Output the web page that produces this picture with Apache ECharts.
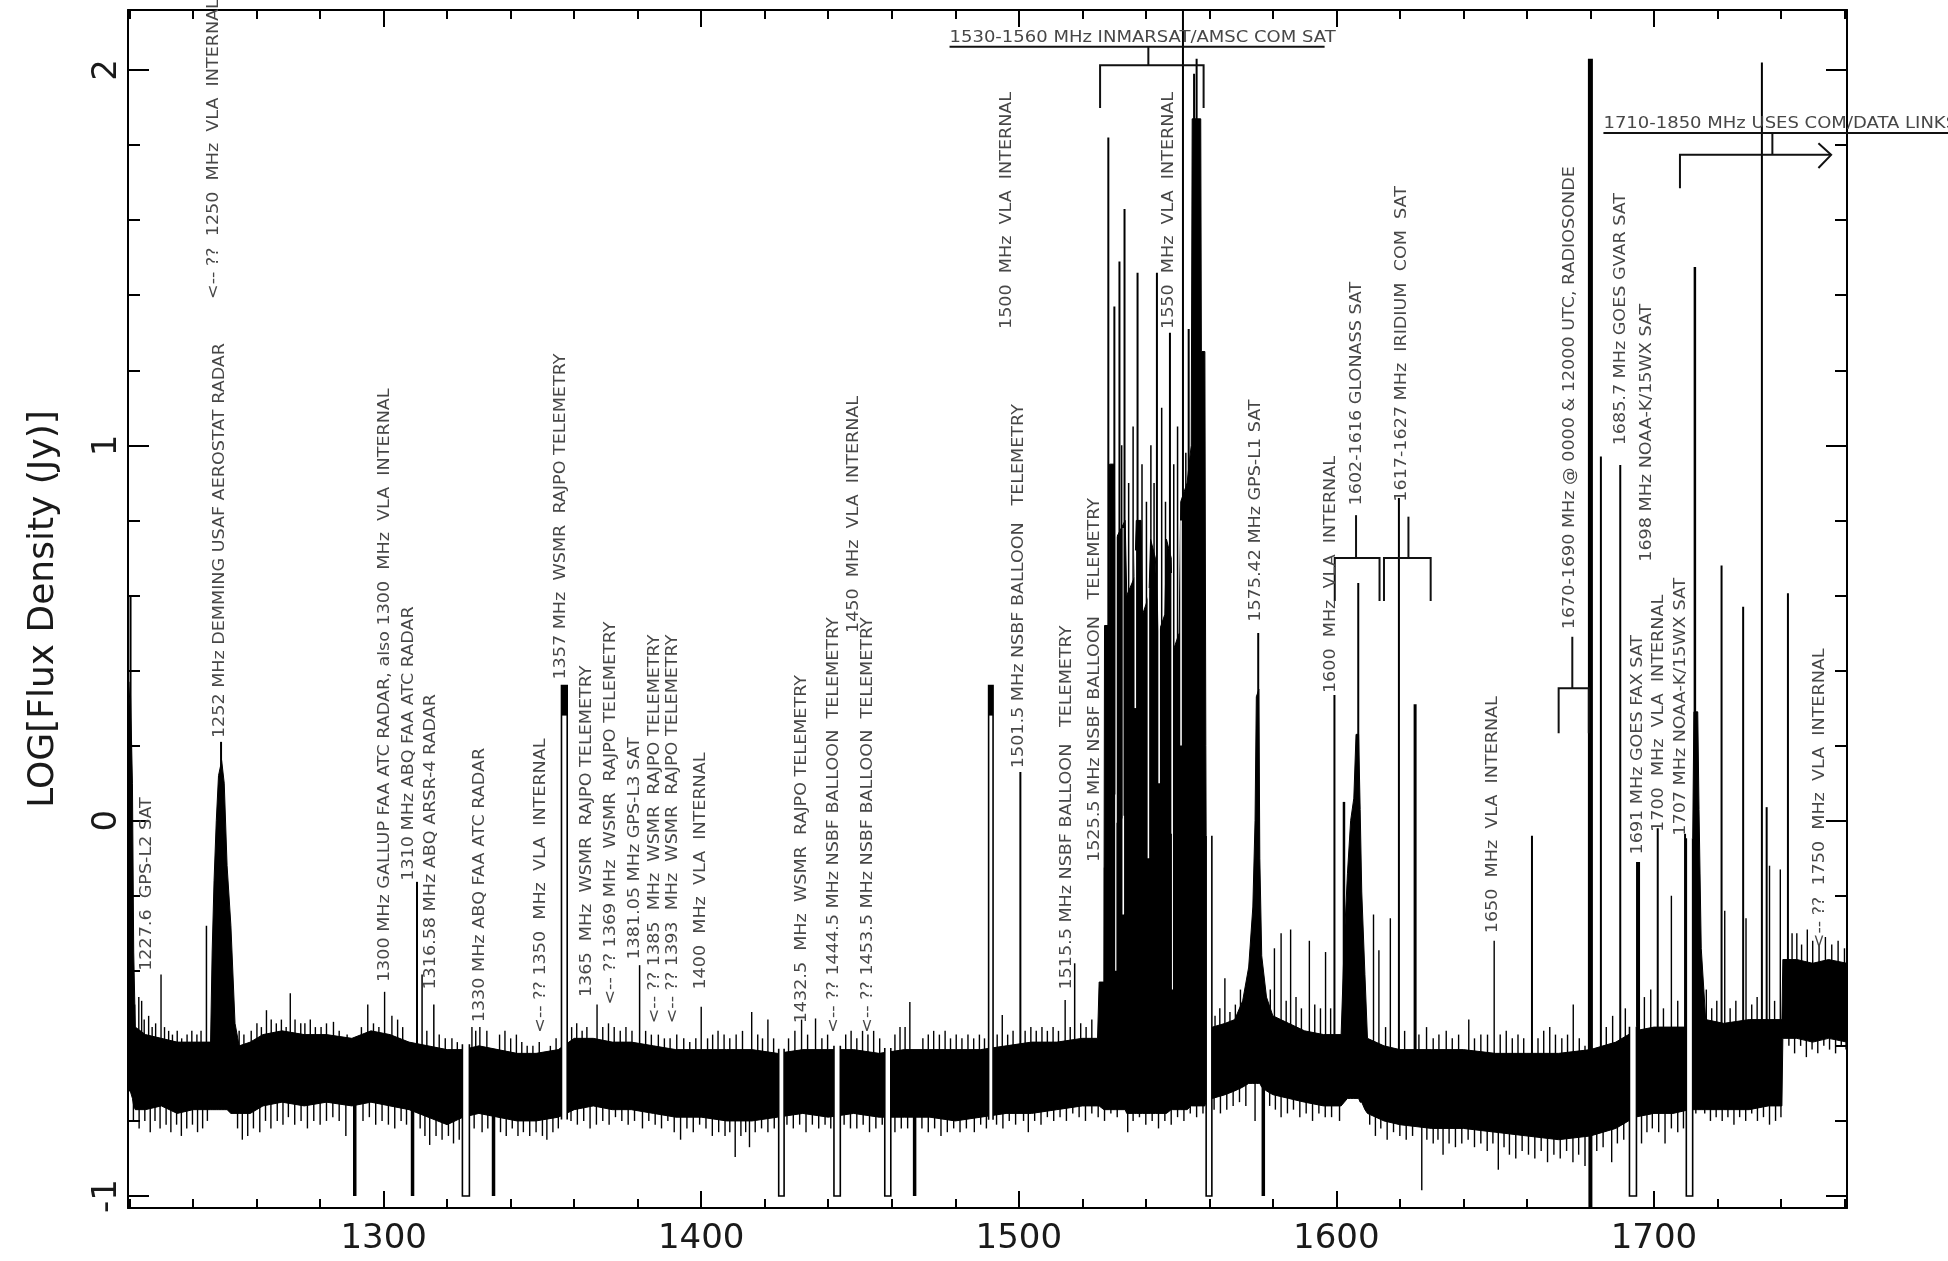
<!DOCTYPE html>
<html><head><meta charset="utf-8">
<script src="https://cdn.jsdelivr.net/npm/echarts@6/dist/echarts.min.js"></script>
<style>html,body{margin:0;padding:0;background:#fff;}#c{width:1948px;height:1261px;}</style>
</head><body><div id="c"></div>
<script>
// ---------------- tick values ----------------
const xMajorTicks = [1300, 1400, 1500, 1600, 1700];
const xMinorTicks = [1220,1240,1260,1280,1300,1320,1340,1360,1380,1400,1420,1440,1460,1480,1500,1520,1540,1560,1580,1600,1620,1640,1660,1680,1700,1720,1740,1760];
const yMajorTicks = [-1, 0, 1, 2];
const yMinorTicks = [-1,-0.8,-0.6,-0.4,-0.2,0,0.2,0.4,0.6,0.8,1,1.2,1.4,1.6,1.8,2];

// ---------------- noise band envelope: [freq MHz, low, high] (log Jy) ----------------
const bandEnvelope = [
[1219.5,-0.72,0.25],[1220.2,-0.72,0.37],[1220.9,-0.74,0.10],[1221.3,-0.76,-0.35],[1221.8,-0.77,-0.55],
[1225,-0.77,-0.57],[1230,-0.76,-0.58],[1235,-0.78,-0.59],[1240,-0.77,-0.59],[1245.5,-0.77,-0.59],
[1246.0,-0.77,-0.35],[1246.6,-0.77,-0.16],[1247.3,-0.77,0.00],[1248.0,-0.77,0.12],[1249.0,-0.77,0.16],
[1249.8,-0.77,0.10],[1250.7,-0.77,-0.12],[1251.9,-0.78,-0.28],[1253.2,-0.78,-0.54],[1254.5,-0.78,-0.60],
[1258,-0.78,-0.59],[1262,-0.76,-0.57],[1268,-0.75,-0.56],[1275,-0.76,-0.57],[1282,-0.75,-0.57],
[1290,-0.76,-0.58],[1296,-0.75,-0.56],[1302,-0.76,-0.57],[1308,-0.77,-0.59],[1314,-0.79,-0.60],
[1320,-0.81,-0.61],[1325,-0.79,-0.61],[1330,-0.78,-0.60],[1336,-0.79,-0.61],[1342,-0.80,-0.62],
[1348,-0.80,-0.62],[1355,-0.79,-0.61],[1360,-0.77,-0.58],[1366,-0.76,-0.58],[1372,-0.77,-0.59],
[1378,-0.77,-0.59],[1385,-0.78,-0.60],[1392,-0.79,-0.61],[1400,-0.79,-0.61],[1408,-0.80,-0.61],
[1416,-0.80,-0.61],[1424,-0.79,-0.62],[1432,-0.78,-0.61],[1440,-0.79,-0.61],[1448,-0.78,-0.61],
[1456,-0.79,-0.62],[1464,-0.79,-0.61],[1472,-0.79,-0.61],[1480,-0.80,-0.61],[1488,-0.79,-0.61],
[1496,-0.78,-0.60],[1504,-0.78,-0.59],[1512,-0.77,-0.59],[1520,-0.76,-0.58],[1524.8,-0.76,-0.58],
[1525.3,-0.76,-0.43],[1526.8,-0.77,-0.43],[1527.0,-0.77,0.52],[1528.4,-0.77,0.52],[1528.6,-0.77,0.95],
[1530.0,-0.77,0.95],[1530.5,-0.77,0.75],[1533.5,-0.77,0.80],[1534.0,-0.78,0.60],[1536.5,-0.78,0.65],
[1537.0,-0.78,0.80],[1538.5,-0.78,0.80],[1539.0,-0.78,0.55],[1541.0,-0.78,0.60],[1541.5,-0.78,0.75],
[1543.0,-0.78,0.70],[1544.0,-0.78,0.50],[1546.0,-0.78,0.55],[1546.5,-0.78,0.75],[1548.0,-0.77,0.70],
[1548.5,-0.77,0.45],[1550.5,-0.77,0.50],[1551.0,-0.77,0.85],[1553.0,-0.77,0.90],[1554.3,-0.76,1.00],
[1554.6,-0.76,1.87],[1557.3,-0.76,1.87],[1557.5,-0.76,1.25],[1558.6,-0.76,1.25],[1558.9,-0.75,0.20],
[1559.2,-0.74,-0.55],[1561,-0.74,-0.55],[1565,-0.73,-0.54],[1568,-0.72,-0.53],[1570.5,-0.71,-0.48],
[1572.4,-0.70,-0.39],[1573.7,-0.70,-0.23],[1574.4,-0.70,0.00],[1574.8,-0.70,0.33],[1575.6,-0.70,0.35],
[1575.9,-0.70,-0.10],[1576.5,-0.71,-0.36],[1578.0,-0.72,-0.47],[1580,-0.73,-0.52],[1585,-0.74,-0.54],
[1590,-0.75,-0.56],[1596,-0.76,-0.57],[1601.5,-0.76,-0.57],[1602.5,-0.75,-0.32],[1603.5,-0.74,-0.14],
[1604.5,-0.74,0.00],[1605.5,-0.74,0.06],[1606.2,-0.74,0.23],[1607.0,-0.74,0.23],[1607.5,-0.75,0.03],
[1608.0,-0.75,-0.19],[1609.0,-0.77,-0.41],[1609.8,-0.78,-0.58],[1615,-0.80,-0.60],[1620,-0.81,-0.61],
[1630,-0.82,-0.61],[1640,-0.82,-0.61],[1650,-0.83,-0.62],[1660,-0.84,-0.62],[1670,-0.85,-0.62],
[1680,-0.84,-0.61],[1688,-0.82,-0.59],[1694,-0.79,-0.56],[1700,-0.78,-0.55],[1706,-0.78,-0.55],
[1711.2,-0.77,-0.55],[1712.0,-0.77,-0.23],[1712.6,-0.77,0.29],[1713.8,-0.77,0.29],[1714.2,-0.77,0.03],
[1714.9,-0.77,-0.34],[1716.3,-0.77,-0.53],[1722,-0.77,-0.54],[1730,-0.77,-0.53],[1736,-0.76,-0.53],
[1740.3,-0.76,-0.53],[1740.6,-0.58,-0.37],[1745,-0.58,-0.37],[1750,-0.59,-0.38],[1755,-0.58,-0.37],
[1760.8,-0.59,-0.38]
];

// ---------------- small noise spikes above the band: [freq, peak] ----------------
const spikesUp = [
[1221.6,-0.49],[1222.9,-0.47],[1223.8,-0.48],[1224.6,-0.53],[1226.0,-0.52],[1227.1,-0.55],[1228.2,-0.54],[1229.9,-0.41],
[1231.0,-0.55],[1232.3,-0.56],[1233.5,-0.57],[1235.0,-0.56],[1236.4,-0.58],[1238.1,-0.57],[1239.6,-0.56],[1241.2,-0.57],[1242.5,-0.56],
[1254.5,-0.56],[1256.0,-0.57],[1258.3,-0.56],[1260.1,-0.54],[1261.5,-0.55],[1263.1,-0.505],[1264.6,-0.53],[1266.2,-0.54],
[1267.8,-0.53],[1269.3,-0.55],[1270.6,-0.46],[1272.1,-0.53],[1273.9,-0.54],[1275.2,-0.54],[1276.9,-0.53],[1278.5,-0.55],
[1280.3,-0.55],[1282.0,-0.54],[1284.2,-0.536],[1286.0,-0.56],[1288.5,-0.57],[1293.0,-0.55],[1295.0,-0.49],[1296.8,-0.54],
[1298.5,-0.55],[1300.3,-0.456],[1302.6,-0.52],[1304.4,-0.53],[1306.0,-0.55],
[1313.6,-0.56],[1317.5,-0.57],[1319.4,-0.58],[1321.5,-0.58],[1323.2,-0.59],[1327.8,-0.55],[1329.0,-0.56],[1330.3,-0.55],
[1332.5,-0.56],[1336.5,-0.57],[1338.2,-0.56],[1340.0,-0.58],[1341.8,-0.57],[1343.5,-0.59],[1345.2,-0.60],[1347.0,-0.60],
[1349.0,-0.59],[1352.5,-0.60],[1354.3,-0.58],
[1359.2,-0.55],[1360.8,-0.54],[1362.5,-0.56],[1364.0,-0.55],[1367.2,-0.49],[1369.0,-0.55],[1370.8,-0.54],[1372.6,-0.55],
[1374.5,-0.56],[1376.3,-0.55],[1378.2,-0.56],[1382.5,-0.56],[1384.3,-0.57],[1386.5,-0.57],[1388.4,-0.58],[1390.2,-0.58],
[1392.3,-0.57],[1394.5,-0.58],[1396.4,-0.59],[1398.3,-0.58],[1400.0,-0.496],[1402.0,-0.58],[1403.6,-0.57],[1405.3,-0.56],
[1407.2,-0.57],[1409.0,-0.58],[1411.0,-0.57],[1413.0,-0.56],[1415.9,-0.51],[1417.8,-0.57],[1419.3,-0.58],[1421.0,-0.53],[1422.8,-0.58],
[1427.5,-0.58],[1429.5,-0.56],[1431.6,-0.53],[1433.5,-0.57],[1436.0,-0.527],[1438.0,-0.58],[1439.8,-0.57],
[1445.5,-0.57],[1447.2,-0.56],[1449.0,-0.58],[1450.8,-0.56],[1452.5,-0.57],[1454.3,-0.56],[1456.2,-0.58],
[1461.0,-0.57],[1462.6,-0.55],[1464.2,-0.55],[1465.7,-0.483],[1469.8,-0.58],[1471.5,-0.57],[1473.2,-0.56],[1475.0,-0.57],
[1476.8,-0.56],[1478.5,-0.58],[1480.3,-0.57],[1482.1,-0.58],[1484.0,-0.57],[1485.8,-0.58],[1487.6,-0.57],[1489.2,-0.58],
[1493.2,-0.57],[1494.8,-0.518],[1496.5,-0.57],[1498.2,-0.56],[1502.0,-0.56],[1503.8,-0.55],[1505.5,-0.56],[1507.3,-0.55],
[1509.0,-0.56],[1510.8,-0.55],[1512.5,-0.56],[1514.6,-0.478],[1516.2,-0.55],[1519.5,-0.54],[1521.2,-0.55],[1523.0,-0.53],
[1561.8,-0.52],[1563.3,-0.50],[1564.9,-0.42],[1566.5,-0.51],[1568.2,-0.49],[1569.8,-0.45],[1579.2,-0.45],[1580.5,-0.34],
[1582.6,-0.30],[1584.2,-0.48],[1585.6,-0.29],[1587.3,-0.47],[1589.0,-0.50],[1591.5,-0.32],[1593.2,-0.49],[1595.0,-0.50],
[1596.6,-0.35],[1598.2,-0.50],
[1611.7,-0.25],[1613.4,-0.345],[1615.5,-0.55],[1617.0,-0.26],[1621.5,-0.56],[1626.0,-0.57],[1628.4,-0.55],[1630.5,-0.58],
[1632.3,-0.57],[1634.6,-0.56],[1636.5,-0.58],[1638.5,-0.57],[1641.7,-0.53],[1643.5,-0.58],[1645.5,-0.57],[1647.6,-0.57],
[1649.7,-0.32],[1651.6,-0.57],[1653.5,-0.56],[1655.4,-0.58],[1657.2,-0.57],[1659.0,-0.58],[1663.5,-0.58],[1665.3,-0.56],
[1667.2,-0.55],[1669.0,-0.57],[1671.0,-0.58],[1672.8,-0.57],[1674.6,-0.49],[1676.5,-0.58],[1678.3,-0.60],
[1685.0,-0.55],[1687.0,-0.52],[1691.0,-0.50],[1697.0,-0.47],[1699.0,-0.45],[1703.0,-0.50],[1705.5,-0.20],[1707.5,-0.48],
[1716.5,-0.45],[1718.2,-0.50],[1719.8,-0.48],[1722.3,-0.24],[1724.0,-0.50],[1725.8,-0.48],[1729.0,-0.26],[1730.8,-0.49],
[1732.5,-0.47],[1736.4,-0.12],[1738.0,-0.48],[1739.8,-0.13],[1743.5,-0.30],[1745.0,-0.30],[1746.5,-0.33],[1748.3,-0.29],
[1750.0,-0.32],[1752.0,-0.33],[1754.0,-0.31],[1756.0,-0.33],[1758.0,-0.32],[1760.0,-0.34]
];

// ---------------- small noise spikes below the band: [freq, minimum] ----------------
const spikesDown = [
[1221.2,-0.80],[1223.0,-0.82],[1224.8,-0.80],[1226.5,-0.83],[1228.0,-0.80],[1229.6,-0.82],[1231.5,-0.81],[1233.0,-0.83],
[1234.8,-0.81],[1236.3,-0.84],[1238.0,-0.82],[1239.8,-0.81],[1241.4,-0.83],[1243.0,-0.82],[1244.5,-0.80],
[1254.0,-0.82],[1255.5,-0.85],[1257.2,-0.84],[1259.0,-0.82],[1261.0,-0.83],[1262.8,-0.80],[1264.5,-0.82],[1266.5,-0.80],
[1268.3,-0.81],[1270.0,-0.79],[1272.0,-0.81],[1274.0,-0.80],[1276.0,-0.82],[1278.0,-0.80],[1280.0,-0.81],[1282.0,-0.80],
[1284.0,-0.79],[1286.0,-0.80],[1288.1,-0.84],
[1293.5,-0.80],[1295.5,-0.79],[1297.5,-0.81],[1299.5,-0.80],[1301.5,-0.81],[1303.5,-0.82],[1305.5,-0.80],[1307.2,-0.81],
[1311.5,-0.82],[1313.0,-0.84],[1314.5,-0.864],[1316.5,-0.84],[1318.4,-0.85],[1320.4,-0.84],[1322.0,-0.86],[1323.8,-0.85],
[1328.5,-0.82],[1331.0,-0.83],[1332.8,-0.82],[1336.8,-0.83],[1338.6,-0.84],[1340.5,-0.82],[1342.3,-0.84],[1344.0,-0.83],
[1346.0,-0.84],[1348.0,-0.83],[1350.0,-0.84],[1351.4,-0.85],[1353.3,-0.83],[1355.0,-0.82],
[1359.0,-0.80],[1361.0,-0.81],[1363.0,-0.80],[1365.0,-0.82],[1367.0,-0.81],[1369.0,-0.80],[1371.0,-0.81],[1373.0,-0.79],
[1375.0,-0.80],[1377.0,-0.81],[1379.0,-0.80],[1381.5,-0.82],[1383.5,-0.80],[1385.5,-0.81],[1387.5,-0.82],[1389.5,-0.80],
[1391.5,-0.83],[1393.5,-0.85],[1395.5,-0.82],[1397.5,-0.83],[1399.5,-0.81],[1401.5,-0.82],[1403.5,-0.84],[1405.5,-0.83],
[1407.5,-0.84],[1409.0,-0.83],[1410.7,-0.896],[1412.5,-0.84],[1414.0,-0.83],[1415.2,-0.87],[1417.0,-0.83],[1419.0,-0.82],
[1421.0,-0.83],[1423.0,-0.82],
[1427.0,-0.81],[1429.0,-0.82],[1431.0,-0.81],[1433.0,-0.83],[1435.0,-0.81],[1437.0,-0.82],[1439.0,-0.81],[1440.8,-0.82],
[1445.0,-0.81],[1447.0,-0.82],[1449.0,-0.82],[1451.0,-0.81],[1453.0,-0.83],[1455.0,-0.82],[1457.0,-0.81],[1461.0,-0.83],
[1463.0,-0.82],[1465.0,-0.82],[1469.5,-0.82],[1471.5,-0.83],[1473.5,-0.82],[1475.5,-0.84],[1477.5,-0.83],[1479.5,-0.82],
[1481.5,-0.83],[1483.5,-0.82],[1486.0,-0.83],[1488.0,-0.81],[1489.8,-0.82],[1493.0,-0.81],[1495.0,-0.82],[1497.0,-0.80],
[1499.0,-0.81],
[1501.5,-0.80],[1503.0,-0.83],[1505.0,-0.80],[1507.0,-0.81],[1509.0,-0.79],[1511.0,-0.80],[1513.0,-0.79],[1515.0,-0.80],
[1517.0,-0.78],[1519.0,-0.79],[1521.0,-0.80],[1523.0,-0.78],[1525.0,-0.79],
[1527.0,-0.80],[1529.0,-0.78],[1531.0,-0.79],[1534.3,-0.83],[1536.0,-0.80],[1538.0,-0.79],[1540.0,-0.81],[1542.0,-0.80],
[1544.0,-0.82],[1546.0,-0.80],[1548.0,-0.81],[1550.0,-0.79],[1552.0,-0.80],[1554.0,-0.78],[1556.0,-0.79],[1558.0,-0.78],
[1561.5,-0.77],[1563.5,-0.78],[1565.5,-0.77],[1567.5,-0.76],[1569.5,-0.75],[1571.5,-0.76],[1574.4,-0.80],[1579.0,-0.76],
[1580.8,-0.77],[1582.6,-0.79],[1584.6,-0.78],[1586.5,-0.77],[1588.5,-0.79],[1590.5,-0.78],[1592.5,-0.80],[1594.5,-0.78],
[1596.5,-0.79],[1598.5,-0.79],
[1601.0,-0.80],[1610.5,-0.81],[1612.3,-0.84],[1614.0,-0.82],[1616.0,-0.85],[1618.0,-0.83],[1620.0,-0.84],[1622.0,-0.85],
[1624.0,-0.84],[1626.9,-0.985],[1628.5,-0.85],[1630.5,-0.86],[1632.0,-0.85],[1633.6,-0.89],[1635.5,-0.86],[1637.5,-0.87],
[1639.5,-0.86],[1641.5,-0.85],[1643.5,-0.87],[1645.5,-0.86],[1647.5,-0.88],[1649.3,-0.86],[1651.0,-0.93],[1652.8,-0.87],
[1654.5,-0.89],[1656.5,-0.90],[1658.5,-0.88],[1660.5,-0.89],[1662.5,-0.90],[1664.5,-0.88],[1666.5,-0.91],[1668.5,-0.89],
[1670.5,-0.90],[1672.5,-0.88],[1674.5,-0.91],[1676.3,-0.89],[1678.3,-0.92],
[1682.0,-0.88],[1684.0,-0.87],[1686.7,-0.91],[1688.5,-0.86],[1690.5,-0.85],[1696.1,-0.86],[1697.8,-0.83],[1699.5,-0.82],
[1701.5,-0.83],[1703.5,-0.86],[1705.5,-0.82],[1707.5,-0.83],[1709.3,-0.82],[1713.2,-0.78],[1716.0,-0.78],[1717.8,-0.80],
[1719.6,-0.79],[1721.5,-0.80],[1723.3,-0.79],[1725.2,-0.81],[1727.0,-0.79],[1728.9,-0.80],[1730.8,-0.78],[1732.6,-0.80],
[1734.5,-0.79],[1736.4,-0.81],[1738.3,-0.80],[1740.0,-0.79],
[1742.5,-0.60],[1744.3,-0.62],[1746.2,-0.60],[1748.0,-0.63],[1749.8,-0.61],[1751.6,-0.62],[1753.5,-0.60],[1755.3,-0.61],
[1757.2,-0.62],[1759.0,-0.60],[1760.5,-0.61]
];

// ---------------- strong interference lines: [freq, peak, line width px] ----------------
const strongLines = [
[1220.3,0.60,2],[1244.2,-0.28,1.5],[1248.8,0.21,2],[1310.5,-0.163,2],[1312.1,-0.41,1.5],[1315.8,-0.49,1.5],
[1380.6,-0.385,1.5],[1500.5,0.13,2],[1517.6,-0.38,1.5],
[1528.2,1.82,2],[1529.3,0.95,1.5],[1530.1,1.37,2],[1531.7,1.49,2],[1532.4,1.00,1.5],[1533.3,1.63,2],[1534.6,0.90,1.5],
[1536.0,1.05,1.5],[1537.4,1.46,2],[1538.8,0.95,1.5],[1540.2,0.85,1.5],[1541.6,1.00,1.5],[1542.6,0.90,1.5],[1543.5,1.46,2],
[1545.0,1.10,1.5],[1546.2,0.85,1.5],[1547.6,1.30,2],[1548.8,0.95,1.5],[1550.0,1.05,1.5],[1551.7,2.30,2],[1552.6,0.98,1.5],
[1553.5,1.31,2],[1555.2,1.99,2],[1556.0,2.03,2],
[1575.4,0.50,2],[1599.4,0.335,2],[1602.4,0.05,2.5],[1606.9,0.633,2],[1619.7,0.86,2],[1624.8,0.31,3],[1661.6,-0.04,2],
[1680.0,2.03,5],[1683.3,0.97,2],[1689.4,0.948,2],[1695.0,-0.11,4],[1701.2,-0.02,2],[1709.8,-0.035,2],[1712.9,1.475,2.5],
[1721.3,0.68,2],[1728.1,0.57,2],[1734.0,2.02,2],[1735.5,0.036,2],[1742.2,0.606,2]
];

// strong downward lines: [freq, minimum, width px]
const strongDown = [
[1290.9,-1.0,3.5],[1309.1,-1.0,3.5],[1334.6,-1.0,3.5],[1467.2,-1.0,3.5],[1577.0,-1.0,3.5],[1680.0,-1.04,4]
];

// white streaks inside the INMARSAT cluster: [freq, top, bottom]
const forestGaps = [
[1530.6,0.90,-0.40],[1532.9,0.78,-0.25],[1536.7,0.72,0.30],[1540.8,0.62,-0.10],
[1544.2,0.66,0.10],[1548.3,0.66,-0.45],[1551.1,0.80,0.20]
];

// flagged channels dropping to -1 (drawn open): [freq start, freq end, bottom]
const notches = [
[1324.8,1327.0,-1.0],[1424.4,1426.1,-1.0],[1441.8,1443.8,-1.0],[1457.8,1459.7,-1.0],
[1559.0,1560.8,-1.0],[1692.3,1694.5,-1.0],[1710.2,1712.2,-1.0]
];

// narrow plateaus rising out of the band (drawn open): [freq start, freq end, top]
const plateaus = [[1356.0,1357.8,0.36],[1490.5,1491.9,0.36]];

// ---------------- annotations: [text, freq, start value] ----------------
const annotations = [
["1227.6  GPS-L2 SAT",1225.4,-0.40],
["<-- ??  1250  MHz  VLA  INTERNAL",1246.5,1.39],
["1252 MHz DEMMING USAF AEROSTAT RADAR",1248.4,0.22],
["1300 MHz GALLUP FAA ATC RADAR, also 1300  MHz  VLA  INTERNAL",1300.5,-0.43],
["1310 MHz ABQ FAA ATC RADAR",1308.0,-0.16],
["1316.58 MHz ABQ ARSR-4 RADAR",1315.0,-0.45],
["1330 MHz ABQ FAA ATC RADAR",1330.3,-0.537],
["<-- ?? 1350  MHz  VLA  INTERNAL",1349.5,-0.565],
["1357 MHz  WSMR  RAJPO TELEMETRY",1355.9,0.376],
["1365  MHz  WSMR  RAJPO TELEMETRY",1364.0,-0.47],
["<-- ?? 1369 MHz  WSMR  RAJPO TELEMETRY",1371.5,-0.49],
["1381.05 MHz GPS-L3 SAT",1379.3,-0.37],
["<-- ?? 1385  MHz  WSMR  RAJPO TELEMETRY",1385.6,-0.54],
["<-- ?? 1393  MHz  WSMR  RAJPO TELEMETRY",1391.0,-0.54],
["1400  MHz  VLA  INTERNAL",1400.0,-0.45],
["1432.5  MHz  WSMR  RAJPO TELEMETRY",1431.7,-0.54],
["<-- ?? 1444.5 MHz NSBF BALLOON  TELEMETRY",1441.7,-0.565],
["1450  MHz  VLA  INTERNAL",1448.0,0.50],
["<-- ?? 1453.5 MHz NSBF BALLOON  TELEMETRY",1452.6,-0.565],
["1500  MHz  VLA  INTERNAL",1496.2,1.31],
["1501.5 MHz NSBF BALLOON   TELEMETRY",1500.0,0.14],
["1515.5 MHz NSBF BALLOON   TELEMETRY",1515.3,-0.45],
["1525.5 MHz NSBF BALLOON   TELEMETRY",1523.9,-0.11],
["1550  MHz  VLA  INTERNAL",1547.4,1.31],
["1575.42 MHz GPS-L1 SAT",1574.8,0.53],
["1600  MHz  VLA  INTERNAL",1598.4,0.34],
["1602-1616 GLONASS SAT",1606.4,0.84],
["1617-1627 MHz  IRIDIUM  COM  SAT",1620.7,0.85],
["1650  MHz  VLA  INTERNAL",1649.3,-0.30],
["1670-1690 MHz @ 0000 & 12000 UTC, RADIOSONDE",1673.5,0.51],
["1685.7 MHz GOES GVAR SAT",1689.6,1.00],
["1698 MHz NOAA-K/15WX SAT",1697.8,0.69],
["1691 MHz GOES FAX SAT",1695.0,-0.09],
["1700  MHz  VLA  INTERNAL",1701.6,-0.03],
["1707 MHz NOAA-K/15WX SAT",1708.5,-0.04],
["<-- ??  1750  MHz  VLA  INTERNAL",1752.2,-0.34]
];

// horizontal allocation titles: [text, freq left, baseline value]
const allocationTitles = [
["1530-1560 MHz INMARSAT/AMSC COM SAT",1478.2,2.066],
["1710-1850 MHz USES COM/DATA LINKS",1684.1,1.836]
];

// bracket / underline polylines in data coordinates
const bracketPaths = [
[[1478.2,2.062],[1596.3,2.062]],
[[1525.6,1.899],[1525.6,2.013],[1558.2,2.013],[1558.2,1.899]],
[[1540.8,2.013],[1540.8,2.062]],
[[1599.5,0.585],[1599.5,0.70],[1613.6,0.70],[1613.6,0.585]],
[[1606.2,0.70],[1606.2,0.814]],
[[1615.0,0.585],[1615.0,0.70],[1629.7,0.70],[1629.7,0.585]],
[[1622.7,0.70],[1622.7,0.81]],
[[1670.0,0.233],[1670.0,0.353],[1679.5,0.353],[1679.5,0.233]],
[[1674.3,0.353],[1674.3,0.49]],
[[1684.1,1.832],[1796,1.832]],
[[1737.3,1.832],[1737.3,1.774]],
[[1708.2,1.685],[1708.2,1.774],[1755.8,1.774]],
[[1751.8,1.805],[1755.8,1.774],[1751.8,1.739]]
];

// ---------------- helpers ----------------
function envAt(f, col) {
  const k = bandEnvelope;
  if (f <= k[0][0]) return k[0][col];
  for (let i = 1; i < k.length; i++) {
    if (f <= k[i][0]) {
      const a = k[i-1], b = k[i];
      const t = (f - a[0]) / (b[0] - a[0]);
      return a[col] + (b[col] - a[col]) * t;
    }
  }
  return k[k.length-1][col];
}
function bandMid(f) { return (envAt(f,1) + envAt(f,2)) / 2; }

const LABEL_FONT = 'DejaVu Sans';
const TEXT_COLOR = '#474747';

const chart = echarts.init(document.getElementById('c'), null, {renderer:'canvas', width:1948, height:1261});

const gridBox = {left:128, right:101, top:10, bottom:53};
const XMIN = 1219.5, XMAX = 1760.8, YMIN = -1.032, YMAX = 2.16;

function xAx(pos, ticks, len, showLine, showLabel) {
  return {
    type:'value', position:pos, min:XMIN, max:XMAX,
    axisLine:{show:showLine, onZero:false, lineStyle:{color:'#000', width:2}},
    axisTick:{show:true, inside:true, length:len, customValues:ticks, lineStyle:{color:'#000', width:2}},
    axisLabel:{show:showLabel, customValues:ticks, fontSize:34, fontFamily:LABEL_FONT, color:'#1a1a1a', margin:14,
               formatter:function(v){ return String(Math.round(v)); }},
    splitLine:{show:false}
  };
}
function yAx(pos, ticks, len, showLine, showLabel, withName) {
  const o = {
    type:'value', position:pos, min:YMIN, max:YMAX,
    axisLine:{show:showLine, onZero:false, lineStyle:{color:'#000', width:2}},
    axisTick:{show:true, inside:true, length:len, customValues:ticks, lineStyle:{color:'#000', width:2}},
    axisLabel:{show:showLabel, customValues:ticks, rotate:90, fontSize:34, fontFamily:LABEL_FONT, color:'#1a1a1a', margin:4,
               formatter:function(v){ return String(Math.round(v)); }},
    splitLine:{show:false}
  };
  if (withName) {
    o.name = 'LOG[Flux Density (Jy)]';
    o.nameLocation = 'middle';
    o.nameRotate = 90;
    o.nameGap = 66;
    o.nameTextStyle = {fontSize:36, fontFamily:LABEL_FONT, color:'#1a1a1a'};
  }
  return o;
}

const series = [];

// band
series.push({
  type:'custom', clip:true, silent:true, data:[[1500,0]], z:2,
  renderItem:function(params, api){
    const pts = [];
    for (let i = 0; i < bandEnvelope.length; i++) pts.push(api.coord([bandEnvelope[i][0], bandEnvelope[i][2]]));
    for (let i = bandEnvelope.length-1; i >= 0; i--) pts.push(api.coord([bandEnvelope[i][0], bandEnvelope[i][1]]));
    return {type:'polygon', shape:{points:pts}, style:{fill:'#000', stroke:'#000', lineWidth:1}};
  }
});
// white streaks in the cluster
series.push({
  type:'custom', clip:true, silent:true, data:forestGaps, z:2,
  renderItem:function(params, api){
    const f = api.value(0);
    const a = api.coord([f, api.value(1)]), b = api.coord([f, api.value(2)]);
    return {type:'line', shape:{x1:a[0], y1:a[1], x2:b[0], y2:b[1]}, style:{stroke:'#fff', lineWidth:1.6}};
  }
});
// spikes
function needleSeries(data, width) {
  return {
    type:'custom', clip:true, silent:true, data:data, z:3,
    renderItem:function(params, api){
      const f = api.value(0), v = api.value(1);
      const w = data[params.dataIndex][2] || width;
      const a = api.coord([f, bandMid(f)]), b = api.coord([f, v]);
      return {type:'line', shape:{x1:a[0], y1:a[1], x2:b[0], y2:b[1]}, style:{stroke:'#000', lineWidth:w}};
    }
  };
}
series.push(needleSeries(spikesUp, 1.4));
series.push(needleSeries(spikesDown, 1.4));
series.push(needleSeries(strongLines, 2));
series.push(needleSeries(strongDown, 3));

// open notches (white interior, black outline)
series.push({
  type:'custom', clip:true, silent:true, z:4,
  data:notches.map(n => [n[0], n[2], n[1]]),
  renderItem:function(params, api){
    const f1 = api.value(0), bottom = api.value(1), f2 = api.value(2);
    const top = Math.max(envAt(f1,2), envAt(f2,2)) + 0.01;
    const p1 = api.coord([f1, top]), p2 = api.coord([f2, bottom]);
    const q1 = api.coord([f1, bottom]), q2 = api.coord([f2, top]);
    return {type:'group', children:[
      {type:'rect', shape:{x:p1[0], y:p1[1], width:p2[0]-p1[0], height:p2[1]-p1[1]}, style:{fill:'#fff'}},
      {type:'polyline', shape:{points:[p1, q1, p2, q2]}, style:{stroke:'#000', lineWidth:1.6, fill:null}}
    ]};
  }
});
// open plateaus
series.push({
  type:'custom', clip:true, silent:true, z:4,
  data:plateaus.map(n => [n[0], n[2], n[1]]),
  renderItem:function(params, api){
    const f1 = api.value(0), top = api.value(1), f2 = api.value(2);
    const bottom = Math.min(envAt(f1,1), envAt(f2,1)) - 0.01;
    const a = api.coord([f1, bottom]), b = api.coord([f1, top]);
    const c = api.coord([f2, top]), d = api.coord([f2, bottom]);
    const capB = api.coord([f2, top - 0.08]);
    return {type:'group', children:[
      {type:'rect', shape:{x:a[0], y:b[1], width:d[0]-a[0], height:a[1]-b[1]}, style:{fill:'#fff'}},
      {type:'polyline', shape:{points:[a, b, c, d]}, style:{stroke:'#000', lineWidth:1.6, fill:null}},
      {type:'rect', shape:{x:b[0], y:b[1], width:c[0]-b[0], height:capB[1]-b[1]}, style:{fill:'#000'}}
    ]};
  }
});
// brackets
series.push({
  type:'custom', clip:false, silent:true, z:5,
  data:bracketPaths.map(p => [p[0][0], p[0][1]]),
  renderItem:function(params, api){
    const pts = bracketPaths[params.dataIndex].map(p => api.coord(p));
    return {type:'polyline', shape:{points:pts}, style:{stroke:'#111', lineWidth:2, fill:null}};
  }
});
// rotated annotations
series.push({
  type:'custom', clip:false, silent:true, z:6,
  data:annotations.map(a => [a[1], a[2]]),
  renderItem:function(params, api){
    const p = api.coord([api.value(0), api.value(1)]);
    return {type:'text', x:p[0], y:p[1], rotation:Math.PI/2, scaleX:1.17, scaleY:1,
      style:{text:annotations[params.dataIndex][0], fontSize:15, fontFamily:LABEL_FONT, fill:TEXT_COLOR,
             align:'left', verticalAlign:'middle'}};
  }
});
// horizontal allocation titles
series.push({
  type:'custom', clip:false, silent:true, z:6,
  data:allocationTitles.map(a => [a[1], a[2]]),
  renderItem:function(params, api){
    const p = api.coord([api.value(0), api.value(1)]);
    return {type:'text', x:p[0], y:p[1], scaleX:1.2, scaleY:1,
      style:{text:allocationTitles[params.dataIndex][0], fontSize:15, fontFamily:LABEL_FONT, fill:TEXT_COLOR,
             align:'left', verticalAlign:'bottom'}};
  }
});

chart.setOption({
  animation:false,
  backgroundColor:'#fff',
  grid:gridBox,
  xAxis:[
    xAx('bottom', xMajorTicks, 17, true, true),
    xAx('bottom', xMinorTicks, 9, false, false),
    xAx('top', xMajorTicks, 17, true, false),
    xAx('top', xMinorTicks, 9, false, false)
  ],
  yAxis:[
    yAx('left', yMajorTicks, 21, true, true, true),
    yAx('left', yMinorTicks, 12, false, false, false),
    yAx('right', yMajorTicks, 21, true, false, false),
    yAx('right', yMinorTicks, 12, false, false, false)
  ],
  series:series
});
</script></body></html>
